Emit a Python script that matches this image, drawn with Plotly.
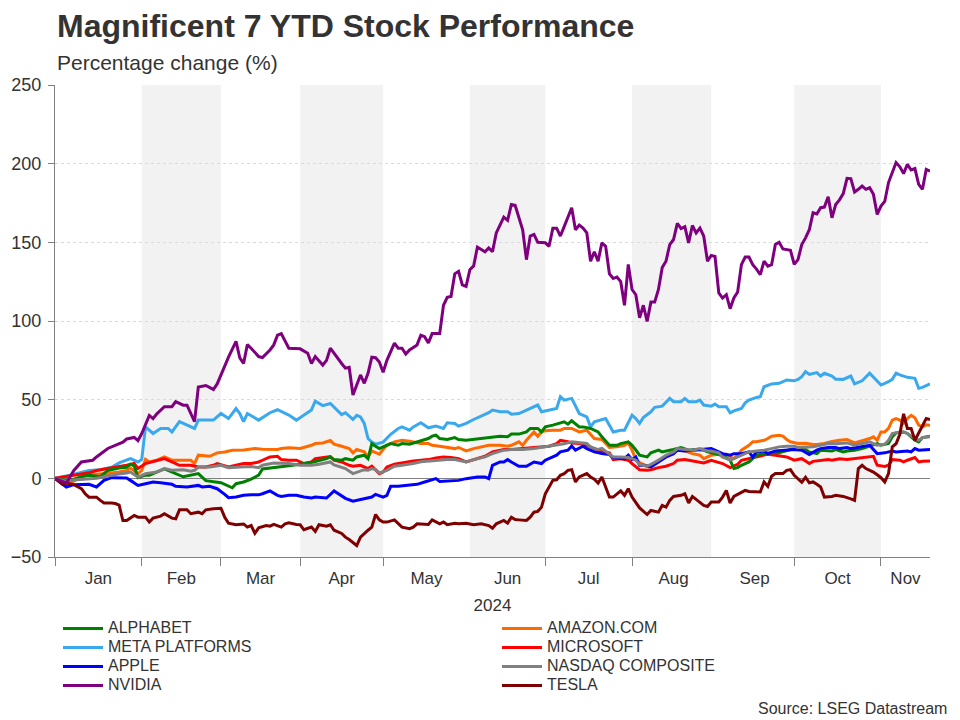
import plotly.graph_objects as go
import pandas as pd

YEAR = "2024"

# ---------------- data (percentage change YTD) ----------------
nvda_dates = ["01-01","01-04","01-08","01-10","01-15","01-16","01-19","01-23","01-25","01-26","01-30","01-31",
              "02-01","02-05","02-06","02-07","02-09","02-13","02-14","02-16","02-19","02-21","02-22","02-26","02-28","02-29",
              "03-04","03-05","03-07","03-08","03-11","03-12","03-13","03-15","03-18","03-20","03-21","03-22","03-25","03-27",
              "04-01","04-03","04-04","04-05","04-09","04-10","04-11","04-15","04-16","04-17","04-18","04-19","04-23","04-24","04-25","04-26","04-29","04-30",
              "05-01","05-02","05-06","05-07","05-08","05-09","05-10","05-14","05-15","05-16","05-17","05-20","05-22","05-23","05-24","05-27","05-28","05-29","05-30","05-31",
              "06-03","06-04","06-05","06-07","06-10","06-11","06-12","06-14","06-17","06-18","06-19","06-21","06-24","06-25","06-26","06-27",
              "07-01","07-02","07-03","07-04","07-05","07-08","07-10","07-11","07-12","07-15","07-16","07-17","07-18","07-19","07-22","07-23","07-24","07-25","07-26","07-29","07-30","07-31",
              "08-01","08-02","08-05","08-06","08-07","08-08","08-09","08-12","08-13","08-14","08-15","08-16","08-19","08-20","08-21","08-22","08-23","08-26","08-27","08-28","08-29","08-30",
              "09-02","09-03","09-04","09-05","09-06","09-09","09-10","09-11","09-12","09-13","09-16","09-17","09-18","09-19","09-20","09-23","09-24","09-25","09-26","09-30",
              "10-01","10-02","10-03","10-04","10-07","10-08","10-09","10-10","10-11","10-14","10-15","10-16","10-17","10-18","10-21","10-22","10-23","10-24","10-25","10-28","10-29","10-30","10-31",
              "11-01","11-04","11-05","11-06","11-07","11-08","11-11","11-12","11-13","11-14","11-15","11-18","11-19","11-20"]
nvda_vals = [0,-3,5,10.4,11.5,13.6,19,21,23,25,26,24,
             28.5,40,38,41,45.5,45.5,48.7,46.5,46.5,36,58,59,56.5,60,
             72,77,87,76.5,73,85,82.7,77.4,76.7,81.6,84.8,91,92,82.7,
             82.3,79.5,73,77.4,72,75,82.7,75.7,73,70,70.5,53,65.7,60.4,66.8,77,76.7,74,
             67.4,75,86,82.7,82.7,79,81.6,84.8,91,90,86,92,92,110,115,115.6,130,131.6,123,122,
             132.6,135,147,144,146.5,144,156,166,164,174,173.5,158,139,154,155,150,
             149.7,147.5,159,159,154,160,172,158,161,159,156,138,144,138,149.7,147.5,130,127,128,125,110,136,
             120,116.7,102,110,99.7,112,112,120,134,138,148.6,151.8,162,158.8,160,149.7,160.7,156,159,154,138,141.7,
             141,117.8,114.6,116.7,107.8,114.6,118.4,135.8,140.7,140.7,135.8,133,129.5,138,134.8,135.8,148.6,150,145.8,145,
             136,139,148.6,152.8,158,168.8,168,172,172.4,179,165.6,174,177,181,190.7,190.5,182,183.7,185.8,183.7,184.7,180.5,167.7,
             173,176,188,194.7,200.7,198,193.7,199.6,196,196.9,186.9,183.7,196.4,195.3]

tsla_dates = ["01-01","01-03","01-04","01-08","01-10","01-11","01-12","01-16","01-17","01-18","01-22","01-23","01-24","01-25","01-26","01-30","01-31",
              "02-02","02-05","02-06","02-08","02-09","02-13","02-14","02-15","02-19","02-20","02-22","02-23","02-26","02-28",
              "03-01","03-04","03-05","03-07","03-11","03-12","03-13","03-14","03-15","03-19","03-20","03-21","03-25","03-26","03-27","03-29",
              "04-01","04-02","04-04","04-05","04-08","04-10","04-11","04-12","04-16","04-17","04-18","04-22","04-23","04-25","04-26","04-29","04-30",
              "05-01","05-02","05-06","05-07","05-08","05-10","05-13","05-14","05-16","05-17","05-20","05-22","05-23","05-24","05-28","05-29","05-31",
              "06-04","06-06","06-10","06-11","06-12","06-14","06-17","06-18","06-19","06-20","06-24","06-25","06-26","06-27","06-28",
              "07-01","07-03","07-04","07-05","07-08","07-09","07-10","07-11","07-12","07-16","07-17","07-18","07-19","07-22","07-23","07-24","07-25","07-26","07-29","07-30","07-31",
              "08-01","08-02","08-05","08-07","08-08","08-12","08-13","08-14","08-15","08-16","08-20","08-21","08-22","08-23","08-27","08-28","08-29","08-30",
              "09-03","09-04","09-05","09-06","09-09","09-11","09-12","09-13","09-17","09-18","09-19","09-20","09-23","09-24","09-26","09-27","09-30",
              "10-01","10-03","10-04","10-07","10-08","10-09","10-10","10-11","10-15","10-16","10-18","10-22","10-23","10-24","10-25","10-28","10-30","10-31",
              "11-01","11-04","11-05","11-06","11-07","11-08","11-11","11-12","11-13","11-14","11-15","11-18","11-19","11-20"]
tsla_vals = [0,-3.8,-3,-4,-6.6,-9.8,-12,-12,-14,-15.7,-15.7,-16,-17,-26.8,-26.8,-23.6,-24.7,
             -24.7,-27.8,-25.3,-24,-22.5,-25.3,-25.7,-20,-20,-22.5,-21.5,-22.5,-20,-19.3,
             -19,-24.7,-28.5,-29.5,-29,-31,-30,-34.9,-31.5,-30,-30.4,-29.3,-31,-28.9,-28.3,-29.3,
             -29.5,-32.7,-31,-33.8,-29.5,-30.4,-29.5,-33,-35,-37.4,-38.9,-42.7,-37.4,-33,-31,-23,-26.4,
             -27.8,-27.8,-26.4,-28.9,-31,-32,-31,-28.9,-28.9,-29.3,-26.4,-28.9,-27.8,-29.5,-28.5,-28.9,-28.5,
             -29.5,-28.9,-30,-31.7,-28.9,-26.8,-28.5,-24.7,-26.2,-26.4,-26.8,-24.7,-21.5,-21,-18.3,
             -9.8,-1.3,-0.9,1.9,3,5.1,5.5,-2.3,0.9,3,0.9,-0.6,-3,0.9,-5.5,-11.9,-11.9,-9.8,-8,-10.8,-6.6,
             -11.9,-15.6,-18.8,-23,-20.4,-21.5,-17.2,-18.3,-14,-11.5,-10.8,-9.8,-15.7,-11.5,-15.7,-17.2,-17.9,-15,
             -15,-11.9,-7.7,-15.7,-11.5,-8.7,-7.7,-8.3,-8.7,-8.7,-2.3,-5.1,1.3,3,3,5.1,5.5,
             1.9,-2.5,0.7,-2.8,-2.3,-3.8,-5.5,-11.9,-11.5,-10.8,-11.5,-13,-14,6.2,8.3,6.2,4,2.3,
             0.4,-2.3,3,20,22,28,41,31.7,31.7,24.2,29,33,38,37.4]

meta_dates = ["01-01","01-05","01-12","01-17","01-22","01-24","01-29","01-31",
              "02-01","02-02","02-06","02-08","02-12","02-13","02-15","02-19","02-21","02-22","02-26","02-28",
              "03-01","03-05","03-07","03-08","03-11","03-12","03-15","03-19","03-20","03-22","03-27","03-29",
              "04-02","04-04","04-05","04-09","04-11","04-15","04-16","04-17","04-19","04-22","04-23","04-24","04-25","04-26","04-29",
              "05-01","05-02","05-03","05-07","05-08","05-10","05-13","05-15","05-16","05-17","05-21","05-23","05-24","05-28","05-29","05-31",
              "06-04","06-06","06-10","06-11","06-13","06-17","06-18","06-20","06-24","06-26","06-27","06-28",
              "07-02","07-04","07-05","07-08","07-10","07-11","07-12","07-16","07-17","07-18","07-22","07-23","07-24","07-25","07-29","07-30",
              "08-01","08-02","08-05","08-06","08-08","08-09","08-13","08-14","08-15","08-16","08-20","08-21","08-22","08-26","08-27","08-28","08-30",
              "09-02","09-03","09-05","09-06","09-09","09-11","09-12","09-13","09-17","09-18","09-19","09-20","09-23","09-25","09-26","09-27",
              "10-01","10-02","10-03","10-04","10-07","10-09","10-10","10-11","10-15","10-16","10-18","10-22","10-23","10-25","10-29","10-31",
              "11-01","11-05","11-06","11-07","11-08","11-12","11-14","11-15","11-18","11-20"]
meta_vals = [0,2,5,5.5,7,9.8,12.5,10.4,
             12,32.7,28.5,31.7,31.7,29.5,36,33.8,31.7,37,37,37,
             41.2,38,44.4,41.2,36,41.2,37,40.2,41.7,43.6,40.2,37,
             40.2,43.5,49,46.2,47.6,42.5,40.5,41.7,37.4,40,39,34.9,25.3,23,21.7,
             23,25.3,28,31.7,32.7,30.6,32.7,35.3,33.8,32.1,33.2,31.7,35.3,34.9,33.2,34.9,
             37.4,39.5,41.7,43.4,42.3,42.3,40.8,41.2,43.4,45.5,46.6,42.3,
             43.4,44.4,51.9,49.7,50.8,45.5,41.2,39,32.7,35.9,37,38,33.8,29.5,30.6,30.6,
             40.2,38,34.9,38.7,42.3,45.1,45.9,48.7,50.8,48.7,48.7,50.8,48.7,48.7,49.7,46.6,45.9,
             47.2,45.5,45.5,41.7,42.9,44.4,48,49.7,51.4,51.9,58.2,59.3,60,60.4,61.4,62.5,
             62,62.9,64.6,67.8,66,67.2,65,66.8,65,63,62.9,65,60,62,66.8,61.4,
             59.3,61.4,62.9,66.8,65.7,64.2,63.6,57.2,57.8,60]

googl_dates = ["01-01","01-04","01-08","01-10","01-12","01-17","01-19","01-24","01-26","01-29","01-30","01-31",
               "02-02","02-05","02-09","02-13","02-16","02-22","02-26",
               "03-01","03-05","03-06","03-07","03-11","03-13","03-15","03-18","03-20","03-25","03-27",
               "04-01","04-04","04-10","04-11","04-12","04-16","04-17","04-19","04-22","04-24","04-25","04-26","04-29","04-30",
               "05-01","05-02","05-03","05-07","05-08","05-10","05-13","05-15","05-17","05-20","05-21","05-22","05-24","05-28","05-29","05-31",
               "06-04","06-06","06-10","06-11","06-13","06-17","06-18","06-20","06-24","06-25","06-27","06-28",
               "07-01","07-03","07-05","07-08","07-09","07-10","07-12","07-15","07-17","07-19","07-22","07-24","07-26","07-29","07-31",
               "08-01","08-02","08-05","08-07","08-08","08-12","08-13","08-15","08-16","08-20","08-22","08-26","08-28","08-29",
               "09-02","09-04","09-06","09-09","09-10","09-11","09-13","09-16","09-17","09-19","09-23","09-25","09-27","09-30",
               "10-02","10-04","10-07","10-09","10-10","10-15","10-16","10-18","10-21","10-23","10-25","10-29","10-31",
               "11-01","11-05","11-06","11-07","11-11","11-12","11-14","11-15","11-18","11-20"]
googl_vals = [0,-1.3,-0.5,1,2,1,5,6.5,7,9,8,0.5,
              2,2,6,4,1,3,-1.5,
              -2.8,-5,-6,-3.4,-2.3,-0.5,2,6,6.5,7.2,8,
              9,10,12.5,13.6,11.9,11.5,12.5,11.5,13.6,14.7,12.5,22,20.4,18.9,
              20,21,22.1,21,22.1,21.7,22.5,24.2,25.3,26.8,27.4,25.3,24.7,25.9,24.7,24.2,
              24.7,25.3,25.9,25.9,26.8,26.4,28.1,28.1,29.5,31.7,31.7,29.5,
              32.7,33.8,34.9,35.9,34.4,36.6,32.7,32.7,31.7,29.5,26.4,21,21,22.1,23.2,
              21,18,14.7,13.6,16.2,17.9,16.8,17.9,18.3,19.6,17.9,18.3,17.9,16.8,
              15.7,14.7,11.5,6.2,6.8,8.3,10.4,12.5,14.7,15.7,16.2,16.2,17.4,18.3,
              18.9,18.3,16.8,15.7,17.9,17.4,18.3,16.8,17.4,17.9,18.9,20.4,22.1,
              21,22.1,26.4,28.9,29.5,28.5,24.2,23.2,25.9,26.8]

amzn_dates = ["01-01","01-03","01-05","01-10","01-12","01-19","01-24","01-26","01-29","01-31",
              "02-01","02-02","02-05","02-07","02-09","02-13","02-16","02-20","02-21","02-22","02-27","02-29",
              "03-04","03-06","03-11","03-14","03-18","03-20","03-22","03-25","03-27",
              "04-01","04-02","04-04","04-05","04-09","04-11","04-12","04-16","04-18","04-19","04-22","04-24","04-25","04-26","04-30",
              "05-01","05-02","05-06","05-08","05-10","05-13","05-15","05-17","05-20","05-22","05-24","05-28","05-29","05-31",
              "06-04","06-06","06-10","06-13","06-17","06-18","06-20","06-21","06-24","06-26","06-27","06-28",
              "07-01","07-03","07-05","07-08","07-10","07-11","07-12","07-16","07-17","07-18","07-22","07-23","07-24","07-26","07-29","07-30","07-31",
              "08-01","08-02","08-05","08-07","08-08","08-12","08-14","08-16","08-19","08-21","08-23","08-27","08-28","08-30",
              "09-03","09-04","09-05","09-09","09-10","09-11","09-13","09-16","09-17","09-19","09-20","09-23","09-25","09-26","09-27","09-30",
              "10-02","10-04","10-08","10-09","10-11","10-15","10-17","10-21","10-23","10-25","10-29","10-30","10-31",
              "11-01","11-04","11-05","11-06","11-07","11-08","11-11","11-12","11-13","11-14","11-15","11-18","11-19","11-20"]
amzn_vals = [0,-2,-3,1,2.5,3,4,5,6.5,3,
             5,12,10.4,11.5,13.6,11.5,11.5,11.5,9.4,14.7,14,16.2,
             16.8,17.9,18,18.9,18.5,18.5,18.3,18.9,19.5,
             19,19.6,21,22.1,22.5,24,21.7,20.4,18.9,16.2,18.3,16.8,13.6,17.4,15.3,
             18.3,21,23.2,24.2,23.6,23.2,22.1,22.1,21,20.4,19.6,18.9,19.6,17.4,
             18.9,20,21,21,20.4,21,23.2,21,24.2,29.5,26.8,29.5,
             30.2,30.6,30.6,31.7,31.7,30.6,29.5,30.6,28.1,25.3,24.7,22.1,19.6,20,20.4,21,22.5,
             17.9,12,10,7.7,8.3,11.5,13.6,15.7,18.3,17.4,15.7,14.7,12.5,14.7,
             15.3,13.6,15.3,12.5,14.7,17.9,21,23.2,23.2,24.2,25.3,26.8,27.4,26.8,24.7,23.2,
             22.1,22.3,21.5,21.5,22.1,23.4,24.2,24.7,22.5,23.8,25.3,26.4,24.2,
             29.5,29.5,31.7,37,38,37,34.9,38,40,38.5,33.8,32.7,34,33.8]

msft_dates = ["01-01","01-04","01-08","01-12","01-16","01-19","01-24","01-26","01-30","01-31",
              "02-02","02-07","02-09","02-13","02-15","02-20","02-22","02-26","02-28","02-29",
              "03-04","03-05","03-07","03-11","03-13","03-15","03-18","03-20","03-22","03-25","03-27","03-29",
              "04-02","04-04","04-05","04-09","04-11","04-12","04-16","04-18","04-19","04-23","04-25","04-26","04-29","04-30",
              "05-01","05-02","05-06","05-08","05-10","05-13","05-15","05-17","05-21","05-23","05-27","05-29","05-31",
              "06-04","06-06","06-07","06-11","06-14","06-18","06-21","06-26","06-28",
              "07-02","07-04","07-05","07-09","07-10","07-12","07-16","07-18","07-22","07-24","07-25","07-29","07-31",
              "08-01","08-02","08-05","08-07","08-08","08-12","08-14","08-16","08-19","08-21","08-23","08-27","08-28","08-30",
              "09-03","09-04","09-06","09-10","09-11","09-13","09-17","09-19","09-20","09-24","09-26","09-27",
              "10-01","10-03","10-04","10-07","10-08","10-10","10-14","10-15","10-17","10-21","10-23","10-25","10-28","10-29","10-30","10-31",
              "11-01","11-04","11-05","11-06","11-08","11-11","11-12","11-14","11-15","11-18","11-20"]
msft_vals = [0,1,2,3.5,5,6.2,7.2,8.3,9.4,6.2,
             9.4,11.5,12.5,10.4,8.3,8.3,7.2,7.2,8.3,9.4,
             7.7,7.2,8.3,9.4,9.4,10.4,11.5,13.6,14,11.9,11.5,11.5,
             9.4,10.4,12.5,13,13.8,11.5,10.4,8.3,7.7,8.3,6.2,7.7,5.1,3,
             4,7.2,8.9,9.8,10.4,11,11.5,11.9,13,13.6,13.2,12.5,10.4,
             11.9,13.2,14,16.8,18.3,18.3,18.9,19.6,20,
             20.4,22.1,24.2,23.2,22.5,22.1,21,18.9,16.8,16.2,11.9,12.5,11.5,
             9.4,7.5,5.5,5.1,5.5,6.8,7.7,9.4,11.5,11.9,11,10.4,9.8,11.5,
             10.4,9.4,6.8,8.9,11.5,12.5,13.6,14.7,15.3,14.7,14,13.6,
             11.5,12.5,11,9.4,10.8,11.5,11.9,11.5,12.5,11.9,12.5,13.2,13.6,14,14,8.3,
             7.7,7.5,8.3,11.9,11.5,10.4,11.5,13.2,10.4,10.8,11]

aapl_dates = ["01-01","01-04","01-08","01-12","01-16","01-18","01-22","01-26","01-29","01-31",
              "02-02","02-06","02-08","02-13","02-14","02-19","02-22","02-23","02-27","02-29",
              "03-04","03-05","03-07","03-11","03-13","03-15","03-18","03-20","03-22","03-25","03-27","03-29",
              "04-02","04-04","04-05","04-09","04-10","04-12","04-16","04-17","04-19","04-23","04-25","04-26","04-29",
              "05-01","05-02","05-03","05-07","05-09","05-13","05-14","05-16","05-17","05-21","05-22","05-24","05-29","05-31",
              "06-05","06-07","06-10","06-11","06-13","06-14","06-17","06-18","06-20","06-24","06-26","06-28",
              "07-01","07-04","07-05","07-09","07-10","07-11","07-12","07-15","07-16","07-18","07-22","07-24","07-25","07-29","07-30","07-31",
              "08-01","08-02","08-05","08-06","08-08","08-12","08-14","08-16","08-19","08-21","08-23","08-27","08-28","08-30",
              "09-03","09-04","09-06","09-09","09-11","09-13","09-16","09-17","09-19","09-20","09-24","09-26","09-27",
              "10-01","10-03","10-07","10-09","10-10","10-14","10-16","10-17","10-21","10-22","10-24","10-28","10-29","10-30","10-31",
              "11-04","11-06","11-07","11-11","11-12","11-13","11-14","11-15","11-19","11-20"]
aapl_vals = [0,-5.5,-4,-3.8,-5.5,-1.3,0.4,0.2,-1.3,-4.5,
             -3.4,-2.3,-2.8,-3.8,-5.1,-5.5,-4.5,-5.5,-5.1,-6.6,
             -10.2,-12.3,-11.9,-10.8,-10.5,-10.5,-9.8,-8,-10.8,-11.5,-10.8,-10.8,
             -11.9,-12.5,-11.9,-12.3,-12.5,-8,-10.8,-12.7,-14.5,-13.6,-12.3,-11.9,-10.2,
             -11.9,-10.8,-5.1,-5.1,-4.5,-3.8,-3.8,-2.3,-1.7,-0.2,-2,-1.7,-1.3,-0.2,
             0.9,0.9,-0.2,8.3,10.4,10.4,11.9,10.4,7.7,7.7,10.4,9.4,
             11.5,14.7,16.8,17.9,20.6,17.9,18.9,20.4,18.9,16.8,15.7,15.1,13.2,12.5,12.5,14.7,
             12,13.6,8.3,8.3,7.2,10.4,13.6,15.7,17.9,17.4,17.9,18.3,18.3,18.9,
             16.8,15.7,14.7,15.7,15.7,16.8,13.6,16.8,17.4,15.7,17.4,17.9,17.9,
             18.3,17.9,15.1,17.9,18.9,19.6,19.6,18.9,19.6,18.9,19.6,20.4,21,18.3,15.7,
             16.2,17.4,16.8,17.4,17.4,16.8,18.9,17.9,18.3,18.3]

ndx_dates = ["01-01","01-04","01-08","01-12","01-16","01-19","01-23","01-26","01-29","01-31",
             "02-02","02-07","02-09","02-13","02-16","02-20","02-21","02-22","02-27",
             "03-01","03-05","03-08","03-13","03-15","03-18","03-21","03-25","03-27",
             "04-01","04-04","04-08","04-10","04-11","04-12","04-15","04-17","04-19","04-22","04-24","04-25","04-26","04-29","04-30",
             "05-02","05-06","05-08","05-10","05-13","05-15","05-17","05-21","05-24","05-28","05-30","05-31",
             "06-04","06-07","06-11","06-14","06-18","06-21","06-26","06-28",
             "07-03","07-05","07-08","07-10","07-12","07-16","07-17","07-19","07-22","07-24","07-25","07-29","07-31",
             "08-01","08-02","08-05","08-07","08-08","08-12","08-14","08-16","08-19","08-21","08-23","08-27","08-29","08-30",
             "09-03","09-04","09-06","09-09","09-11","09-13","09-17","09-19","09-23","09-25","09-27",
             "10-01","10-02","10-04","10-08","10-10","10-14","10-16","10-17","10-21","10-23","10-25","10-29","10-30","10-31",
             "11-04","11-05","11-06","11-08","11-11","11-12","11-14","11-15","11-18","11-20"]
ndx_vals = [0,-2,-1,-0.5,0,1.5,2.5,3.4,4,0.8,
            3,4,6.2,5.1,5.5,4.5,5.1,7.2,7.2,
            8.3,6.8,7.2,7.5,6.8,8.3,9.8,9.4,9.4,
            8.3,8.3,8.9,9.8,10.4,8.5,7.7,6.2,3,4,5.5,5.1,6.2,5.5,3.4,
            5.1,7.7,8.3,8.9,9.4,10.5,11,11.5,11.9,12,11,10.4,
            11.9,13.6,15.7,17.9,18.3,18.3,18.9,19.6,
            21,21.7,22,23.2,22.5,22.1,20,18.3,19,15.7,13.6,13.6,13.2,
            12.5,11.5,8.9,7.7,8.9,11.5,14.7,16.8,18.9,18.3,17.9,18.9,17.4,17.4,
            16.2,13.6,11.5,12.5,14.7,16.8,17.4,17.9,18.9,20,20.4,
            20.4,19.6,20,20,21,22.1,22,22.1,22.5,21,22.1,23.2,22.1,21,
            21.7,24.2,28.5,29.5,29.5,28.5,25.3,24.2,25.9,26.4]

# name, dates, values, colour, legend rank (drawing order is list order)
series = [
    ("META PLATFORMS", meta_dates, meta_vals, "#3AA8EC", 3),
    ("AMAZON.COM", amzn_dates, amzn_vals, "#FF6A00", 2),
    ("MICROSOFT", msft_dates, msft_vals, "#FF0000", 4),
    ("ALPHABET", googl_dates, googl_vals, "#008000", 1),
    ("APPLE", aapl_dates, aapl_vals, "#0000FF", 5),
    ("NASDAQ COMPOSITE", ndx_dates, ndx_vals, "#808080", 6),
    ("TESLA", tsla_dates, tsla_vals, "#7F0000", 8),
    ("NVIDIA", nvda_dates, nvda_vals, "#7F007F", 7),
]

month_names = ["Jan","Feb","Mar","Apr","May","Jun","Jul","Aug","Sep","Oct","Nov"]
month_starts = ["01-01","02-01","03-01","04-01","05-01","06-01","07-01","08-01","09-01","10-01","11-01","12-01"]
shaded_months = [1, 3, 5, 7, 9]   # Feb, Apr, Jun, Aug, Oct
x_start, x_end = "01-01", "11-20"

FONT = "Liberation Sans, Arial, sans-serif"
TXT = "#333333"

# page body has an 8px margin: figure is laid out 8px smaller so it fits the window
W, H = 952, 712
L, T, PW, PH = 47, 77, 875, 472

fig = go.Figure()
for name, d, v, col, rank in series:
    fig.add_trace(go.Scatter(
        x=[f"{YEAR}-{s}" for s in d], y=v, mode="lines",
        name=f'<span style="font-size:16px">{name}</span>',
        line=dict(color=col, width=3), legendrank=rank, hoverinfo="skip"))

shapes = []
for i in shaded_months:
    shapes.append(dict(type="rect", xref="x", yref="paper",
                       x0=f"{YEAR}-{month_starts[i]}", x1=f"{YEAR}-{month_starts[i+1]}",
                       y0=0, y1=1, fillcolor="#F2F2F2", line=dict(width=0), layer="below"))

# month labels centred on the visible (weekday) part of each month
end_ts = pd.Timestamp(f"{YEAR}-{x_end}")
label_pos = []
for i in range(len(month_names)):
    s = pd.Timestamp(f"{YEAR}-{month_starts[i]}")
    e = min(pd.Timestamp(f"{YEAR}-{month_starts[i+1]}"), end_ts)
    days = pd.bdate_range(s, e, inclusive="left")
    n = len(days)
    mid = days[n // 2] if n % 2 == 0 else days[n // 2] + pd.Timedelta(hours=12)
    label_pos.append(mid.strftime("%Y-%m-%d %H:%M"))
tick_starts = [f"{YEAR}-{m}" for m in month_starts[:11]]

fig.update_layout(
    width=W, height=H,
    margin=dict(l=L, r=W-L-PW, t=T, b=H-T-PH, autoexpand=False),
    paper_bgcolor="white", plot_bgcolor="white",
    font=dict(family=FONT, color=TXT),
    shapes=shapes,
    title=dict(text="<b>Magnificent 7 YTD Stock Performance</b>",
               font=dict(family=FONT, size=32, color=TXT),
               x=49/W, xanchor="left", xref="container",
               y=1-18/H, yanchor="middle", yref="container", pad=dict(t=0, b=0, l=0, r=0)),
    showlegend=True,
    legend=dict(orientation="h", xref="container", x=50/W, xanchor="left",
                yref="paper", y=-(606-549)/PH, yanchor="top",
                entrywidth=384, entrywidthmode="pixels", itemwidth=40,
                font=dict(family=FONT, size=12, color=TXT), tracegroupgap=0,
                bgcolor="rgba(0,0,0,0)"),
    annotations=[
        dict(text="Percentage change (%)", xref="paper", yref="paper",
             x=0, y=1 + 22/PH, xanchor="left", yanchor="middle", showarrow=False,
             font=dict(family=FONT, size=21, color=TXT)),
        dict(text="Source: LSEG Datastream", xref="paper", yref="paper",
             x=(941-L)/PW, y=-(700-(T+PH))/PH, xanchor="right", yanchor="middle", showarrow=False,
             font=dict(family=FONT, size=16, color=TXT)),
    ],
)

fig.update_xaxes(
    type="date", range=[f"{YEAR}-{x_start}", f"{YEAR}-{x_end}"],
    rangebreaks=[dict(bounds=["sat", "mon"])],
    tickmode="array", tickvals=label_pos, ticktext=month_names, ticks="",
    minor=dict(tickmode="array", tickvals=tick_starts, ticks="outside", ticklen=8,
               tickcolor="#808080", showgrid=False),
    showline=True, linecolor="#808080", showgrid=False, zeroline=False,
    ticklabelstandoff=6,
    tickfont=dict(family=FONT, size=17, color=TXT),
    title=dict(text=YEAR, font=dict(family=FONT, size=17, color=TXT), standoff=11),
)
fig.update_yaxes(
    range=[-50, 250], dtick=50, tick0=0,
    ticks="outside", ticklen=6, tickcolor="#808080",
    showline=True, linecolor="#808080",
    showgrid=True, gridcolor="#DADADA", griddash="dot", gridwidth=1,
    zeroline=True, zerolinecolor="#808080", zerolinewidth=1,
    ticklabelstandoff=3,
    tickfont=dict(family=FONT, size=18, color=TXT),
)

fig.write_html("out.html")
